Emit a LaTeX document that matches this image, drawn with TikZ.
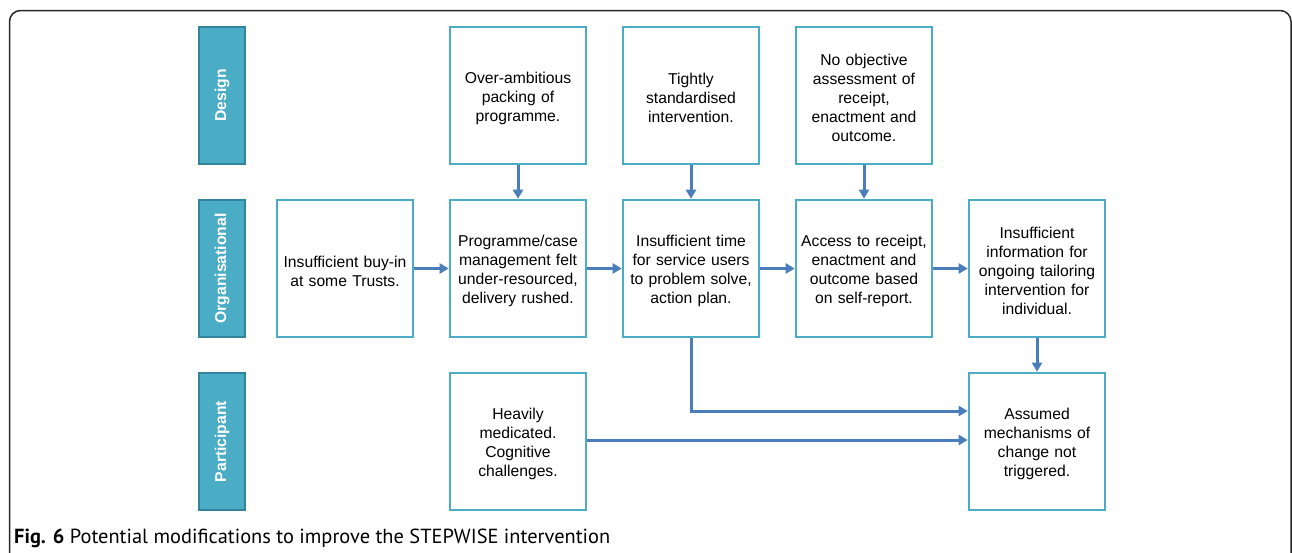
\documentclass[tikz,border=0pt]{standalone}
\usepackage{fontspec}
\setmainfont{Liberation Sans}
\newfontfamily\capfont{PT Sans}
\usetikzlibrary{arrows.meta,calc}
\definecolor{boxline}{RGB}{75,172,198}
\definecolor{labfill}{RGB}{75,172,198}
\definecolor{labline}{RGB}{49,132,155}
\definecolor{arrowc}{RGB}{74,126,187}
\definecolor{framec}{RGB}{40,40,40}
\tikzset{
  box/.style={draw=boxline, line width=2.6pt, fill=white, minimum width=136pt, minimum height=137pt,
    inner sep=0pt, text width=128pt, align=center, font=\fontsize{15.7}{19}\selectfont,
    text height=16.5pt},
  lab/.style={draw=labline, fill=labfill, line width=2.6pt, minimum width=137pt, minimum height=46pt,
    inner sep=0pt, rotate=90, text=white, font=\fontsize{15.7}{19}\selectfont\bfseries},
  conn/.style={draw=arrowc, line width=3pt, -{Triangle[length=9pt,width=10pt]}}
}
\begin{document}
\begin{tikzpicture}[x=1pt,y=-1pt]
\useasboundingbox (0,0) rectangle (1292,552);
\draw[framec, line width=1.5pt, rounded corners=11pt] (9.5,600) -- (9.5,10.5) -- (1291,10.5) -- (1291,600);
% lane labels
\node[lab] (ldesign) at (222,95.5) {Design};
\node[lab] (lorg) at (222,268.5) {Organisational};
\node[lab] (lpart) at (222,441.5) {Participant};
% design row
\node[box] (overamb) at (518,95.5) {Over-ambitious\\packing of\\programme.};
\node[box] (tightly) at (691,95.5) {Tightly\\standardised\\intervention.};
\node[box] (noobj) at (864,95.5) {No objective\\assessment of\\receipt,\\enactment and\\outcome.};
% organisational row
\node[box] (buyin) at (345,268.5) {Insufficient buy-in\\at some Trusts.};
\node[box] (progcase) at (518,268.5) {Programme/case\\management felt\\under-resourced,\\delivery rushed.};
\node[box] (instime) at (691,268.5) {Insufficient time\\for service users\\to problem solve,\\action plan.};
\node[box] (access) at (864,268.5) {Access to receipt,\\enactment and\\outcome based\\on self-report.};
\node[box] (insinfo) at (1037,268.5) {Insufficient\\information for\\ongoing tailoring\\intervention for\\individual.};
% participant row
\node[box] (heavily) at (518,441.5) {Heavily\\medicated.\\Cognitive\\challenges.};
\node[box] (assumed) at (1037,441.5) {Assumed\\mechanisms of\\change not\\triggered.};
% connectors
\draw[conn] (overamb) -- (progcase);
\draw[conn] (tightly) -- (instime);
\draw[conn] (noobj) -- (access);
\draw[conn] (buyin) -- (progcase);
\draw[conn] (progcase) -- (instime);
\draw[conn] (instime) -- (access);
\draw[conn] (access) -- (insinfo);
\draw[conn] (insinfo) -- (assumed);
\draw[conn] (instime.south) |- ([yshift=30.5pt]assumed.west);
\draw[conn] ([yshift=1.5pt]heavily.east) -- ([yshift=1.5pt]assumed.west);
% caption
\node[anchor=base west, inner sep=0pt, font=\capfont\fontsize{20.4}{22}\selectfont] (caption) at (14,543) {\textbf{Fig. 6} Potential modifications to improve the STEPWISE intervention};
\end{tikzpicture}
\end{document}
